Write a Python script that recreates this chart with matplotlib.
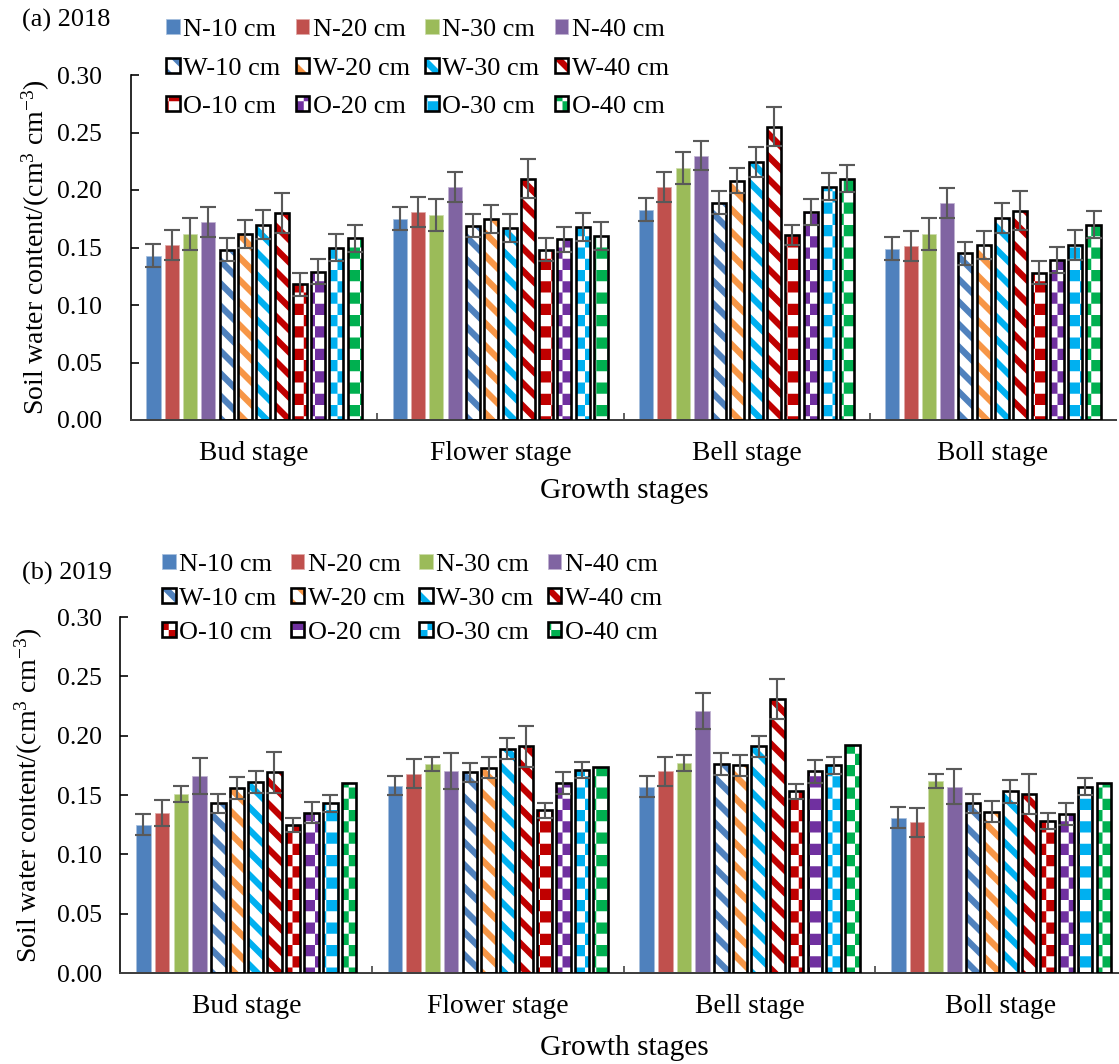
import numpy as np
import matplotlib
matplotlib.use('Agg')
import matplotlib.pyplot as plt
import matplotlib.hatch as mhatch
from matplotlib.path import Path
from matplotlib.patches import Patch
from matplotlib.legend import Legend

# ---------------- data ----------------
stages = ['Bud stage', 'Flower stage', 'Bell stage', 'Boll stage']
series = ['N-10 cm', 'N-20 cm', 'N-30 cm', 'N-40 cm',
          'W-10 cm', 'W-20 cm', 'W-30 cm', 'W-40 cm',
          'O-10 cm', 'O-20 cm', 'O-30 cm', 'O-40 cm']

vals_2018 = [
    [0.143, 0.175, 0.183, 0.149],
    [0.152, 0.181, 0.203, 0.151],
    [0.162, 0.178, 0.219, 0.162],
    [0.172, 0.203, 0.230, 0.189],
    [0.148, 0.169, 0.189, 0.145],
    [0.162, 0.175, 0.208, 0.152],
    [0.170, 0.167, 0.224, 0.176],
    [0.180, 0.210, 0.255, 0.182],
    [0.118, 0.148, 0.161, 0.128],
    [0.129, 0.157, 0.181, 0.139],
    [0.150, 0.168, 0.203, 0.152],
    [0.158, 0.160, 0.210, 0.170],
]
err_2018 = [
    [0.010, 0.010, 0.010, 0.010],
    [0.013, 0.013, 0.013, 0.013],
    [0.014, 0.014, 0.014, 0.014],
    [0.013, 0.013, 0.013, 0.013],
    [0.010, 0.010, 0.010, 0.010],
    [0.012, 0.012, 0.011, 0.012],
    [0.013, 0.012, 0.013, 0.013],
    [0.017, 0.017, 0.017, 0.017],
    [0.010, 0.010, 0.009, 0.010],
    [0.011, 0.011, 0.011, 0.011],
    [0.012, 0.012, 0.012, 0.013],
    [0.012, 0.012, 0.012, 0.012],
]
vals_2019 = [
    [0.125, 0.158, 0.157, 0.131],
    [0.135, 0.168, 0.170, 0.127],
    [0.151, 0.176, 0.177, 0.162],
    [0.166, 0.170, 0.221, 0.157],
    [0.143, 0.169, 0.176, 0.143],
    [0.156, 0.173, 0.175, 0.136],
    [0.161, 0.189, 0.191, 0.153],
    [0.169, 0.191, 0.231, 0.151],
    [0.125, 0.137, 0.153, 0.128],
    [0.135, 0.160, 0.170, 0.134],
    [0.143, 0.171, 0.175, 0.157],
    [0.160, 0.174, 0.192, 0.160],
]
err_2019 = [
    [0.009, 0.008, 0.009, 0.009],
    [0.011, 0.012, 0.012, 0.012],
    [0.0065, 0.006, 0.0065, 0.006],
    [0.015, 0.015, 0.015, 0.015],
    [0.008, 0.008, 0.009, 0.008],
    [0.009, 0.009, 0.009, 0.009],
    [0.0095, 0.009, 0.009, 0.0095],
    [0.017, 0.017, 0.017, 0.017],
    [0.006, 0.006, 0.0065, 0.0065],
    [0.009, 0.009, 0.0095, 0.009],
    [0.007, 0.007, 0.007, 0.007],
    None,
]
yticks = [0.00, 0.05, 0.10, 0.15, 0.20, 0.25, 0.30]

# ---------------- styles ----------------
colors = ['#4F81BD', '#C0504D', '#9BBB59', '#8064A2',
          '#4F81BD', '#F79646', '#00B0F0', '#C00000',
          '#C00000', '#7030A0', '#00B0F0', '#00B050']
kinds = ['solid'] * 4 + ['diag'] * 4 + ['check'] * 4


# custom fill patterns (Excel-like) registered as hatch types
class DiagStripeHatch(mhatch.HatchPatternBase):
    def __init__(self, hatch, density):
        self.n = 4 if 'o' in hatch else 0
        self.count = (2 * self.n + 3) if self.n else 0
        self.num_vertices = self.count * 5

    def set_vertices_and_codes(self, vertices, codes):
        p = 1.0 / self.n
        w = 0.40 * p
        k = 0
        for i in range(self.count):
            c = (i - 1) * p
            pts = [(-1.0, c + 1.0), (2.0, c - 2.0), (2.0, c - 2.0 + w),
                   (-1.0, c + 1.0 + w), (-1.0, c + 1.0)]
            vertices[k:k + 5] = pts
            codes[k:k + 5] = [Path.MOVETO, Path.LINETO, Path.LINETO,
                              Path.LINETO, Path.CLOSEPOLY]
            k += 5


class CheckerHatch(mhatch.HatchPatternBase):
    def __init__(self, hatch, density):
        self.n = 8 if 'O' in hatch else 0
        self.num_vertices = (self.n * self.n // 2) * 5

    def set_vertices_and_codes(self, vertices, codes):
        n = self.n
        s = 1.0 / n
        k = 0
        for i in range(n):
            for j in range(n):
                if (i + j) % 2 == 0:
                    x0, y0 = i * s, j * s
                    vertices[k:k + 5] = [(x0, y0), (x0 + s, y0), (x0 + s, y0 + s),
                                         (x0, y0 + s), (x0, y0)]
                    codes[k:k + 5] = [Path.MOVETO, Path.LINETO, Path.LINETO,
                                      Path.LINETO, Path.CLOSEPOLY]
                    k += 5


if hasattr(mhatch, '_hatch_types'):
    mhatch._hatch_types[:] = [DiagStripeHatch, CheckerHatch]
    HATCH = {'diag': 'o', 'check': 'O'}
else:
    HATCH = {'diag': '\\\\', 'check': '++'}

plt.rcParams['hatch.linewidth'] = 0.001
plt.rcParams['font.family'] = ['Liberation Serif', 'DejaVu Serif']
plt.rcParams['mathtext.fontset'] = 'custom'
plt.rcParams['mathtext.rm'] = 'Liberation Serif'
plt.rcParams['mathtext.it'] = 'Liberation Serif:italic'

DPI = 90
W, H = 1119, 1064
fig = plt.figure(figsize=(W / DPI, H / DPI), dpi=DPI)


def fx(px):
    return px / W


def fy(py):
    return 1 - py / H


def lighten(c, f=0.35):
    r, g, b = matplotlib.colors.to_rgb(c)
    return (r + (1 - r) * f, g + (1 - g) * f, b + (1 - b) * f)


def draw_panel(rect, vals, errs, barw, title, title_y, leg_x0, leg_pitch, leg_top,
               labelspacing, ytick_pad, ylabel_x, xlabel_y):
    ax = fig.add_axes(rect)
    x = np.arange(len(stages))
    pitch = 0.0743
    handles = []
    for i, name in enumerate(series):
        xi = x + (i - 5.5) * pitch
        v = vals[i]
        e = errs[i]
        ekw = dict(ecolor='#595959', elinewidth=1.7, capsize=6.2, capthick=1.7, zorder=5)
        if kinds[i] == 'solid':
            ax.bar(xi, v, barw, color=colors[i], edgecolor=lighten(colors[i], 0.5),
                   linewidth=0.6, yerr=e, error_kw=ekw, zorder=2)
            handles.append(Patch(facecolor=colors[i], edgecolor=lighten(colors[i], 0.5),
                                 linewidth=0.6))
        else:
            ax.bar(xi, v, barw, color='white', edgecolor=colors[i], linewidth=0,
                   hatch=HATCH[kinds[i]], zorder=2)
            ax.bar(xi, v, barw, fill=False, edgecolor='black', linewidth=2.1,
                   yerr=e, error_kw=ekw, zorder=3)
            h1 = Patch(facecolor='white', edgecolor=colors[i], linewidth=0,
                       hatch=HATCH[kinds[i]])
            h2 = Patch(fill=False, edgecolor='black', linewidth=2.1)
            handles.append((h1, h2))

    ax.set_xlim(-0.5, 3.5)
    ax.set_ylim(0, 0.30)
    ax.set_yticks(yticks)
    ax.set_yticklabels(['%.2f' % t for t in yticks])
    ax.set_xticks(x)
    ax.set_xticklabels(stages)
    ax.set_xticks([0.5, 1.5, 2.5], minor=True)
    ax.tick_params(axis='x', which='major', length=0, pad=17, labelsize=22)
    ax.tick_params(axis='x', which='minor', direction='in', length=6, width=1.3,
                   color='#404040')
    ax.tick_params(axis='y', direction='in', length=6, width=1.3, labelsize=20.5,
                   pad=ytick_pad)
    for s in ['top', 'right']:
        ax.spines[s].set_visible(False)
    ax.spines['left'].set_linewidth(1.3)
    ax.spines['left'].set_color('black')
    ax.spines['bottom'].set_linewidth(1.6)
    ax.spines['bottom'].set_color('#404040')

    ax.set_ylabel('Soil water content/(cm$^{3}$ cm$^{-3}$)', fontsize=22.2)
    ax.yaxis.set_label_coords(fx(ylabel_x), rect[1] + rect[3] / 2,
                              transform=fig.transFigure)
    ax.yaxis.label.set_va('center')
    ax.set_xlabel('Growth stages', fontsize=23.5)
    ax.xaxis.set_label_coords(fx(624), fy(xlabel_y), transform=fig.transFigure)
    ax.xaxis.label.set_va('center')

    fig.text(fx(22), fy(title_y), title, fontsize=21, ha='left', va='center')

    # legend: one legend block per column (N / W / O rows), equally spaced columns
    for c in range(4):
        idx = [c, c + 4, c + 8]
        leg = Legend(ax, [handles[k] for k in idx], [series[k] for k in idx],
                     ncol=1, loc='upper left',
                     bbox_to_anchor=(fx(leg_x0 + c * leg_pitch), fy(leg_top)),
                     bbox_transform=fig.transFigure, frameon=False, fontsize=21,
                     handlelength=0.52, handleheight=0.52, handletextpad=0.13,
                     labelspacing=labelspacing, borderpad=0, borderaxespad=0)
        ax.add_artist(leg)
    return ax


# panel a
draw_panel([fx(131), fy(420), 985 / W, 345 / H], vals_2018, err_2018, 0.057,
           '(a) 2018', 20, 166, 129.5, 19, 0.63, 23, 36, 491)
# panel b
draw_panel([fx(120.5), fy(973), 1006.3 / W, 356 / H], vals_2019, err_2019, 0.058,
           '(b) 2019', 573, 162, 128.5, 554, 0.45, 15, 29, 1048)

fig.savefig('out.png', dpi=DPI)
